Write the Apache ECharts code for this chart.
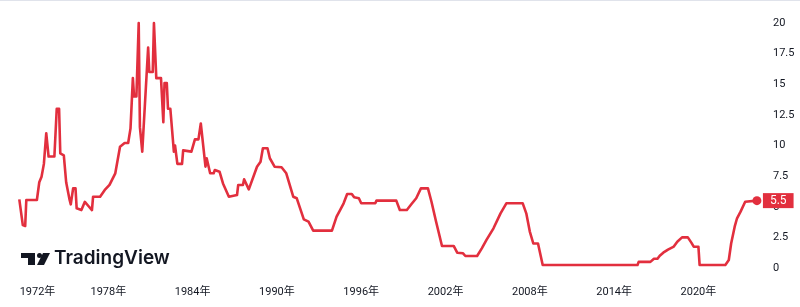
<!DOCTYPE html>
<html>
<head>
<meta charset="utf-8">
<script src="https://cdn.jsdelivr.net/npm/echarts@6/dist/echarts.min.js"></script>
<style>
html,body{margin:0;padding:0;background:#fff;}
#chart{width:800px;height:307px;}
</style>
</head>
<body>
<div id="chart"></div>
<script>
// Change points of the rate line (month, percent)
const dates = [
 '1971-09','1971-12',
 '1972-02','1972-03','1972-12',
 '1973-02','1973-04','1973-06','1973-08','1973-10',
 '1974-03','1974-05','1974-07','1974-08','1974-11',
 '1975-01','1975-04','1975-05','1975-07','1975-09','1975-10',
 '1976-02','1976-05','1976-08','1976-11','1976-12',
 '1977-06','1977-10',
 '1978-02','1978-07','1978-11',
 '1979-03','1979-06','1979-08','1979-10','1979-11',
 '1980-01','1980-03','1980-04','1980-06','1980-07','1980-11','1980-12',
 '1981-03','1981-04','1981-06','1981-10','1981-12',
 '1982-01','1982-03','1982-04','1982-06','1982-09','1982-10','1982-12',
 '1983-04','1983-05','1983-12',
 '1984-03','1984-06','1984-08','1984-12',
 '1985-01','1985-04','1985-07','1985-08','1985-12',
 '1986-03','1986-08',
 '1987-03','1987-04','1987-08','1987-09',
 '1988-01','1988-08','1988-11',
 '1989-01','1989-05','1989-07','1989-11',
 '1990-05','1990-09',
 '1991-03','1991-06','1991-12',
 '1992-04','1992-08',
 '1993-12',
 '1994-04','1994-07','1994-10',
 '1995-01','1995-05','1995-07','1995-11',
 '1996-01',
 '1997-01','1997-02',
 '1998-07','1998-10',
 '1999-04','1999-08','1999-12',
 '2000-04','2000-10',
 '2001-01','2001-05','2001-10',
 '2002-08','2002-11',
 '2003-04','2003-06',
 '2004-04','2004-08','2004-12',
 '2005-06','2005-12',
 '2006-05',
 '2007-07','2007-10',
 '2008-01','2008-04','2008-08','2008-12',
 '2015-09','2015-10',
 '2016-08','2016-11',
 '2017-02','2017-04','2017-07','2017-11',
 '2018-04','2018-07','2018-11',
 '2019-04','2019-07','2019-09',
 '2020-01','2020-02',
 '2021-12',
 '2022-03','2022-05','2022-08','2022-10',
 '2023-01','2023-05','2023-06',
 '2024-03'
];
const rates = [
 5.6,3.5,
 3.43,5.55,5.55,
 7.0,7.45,8.5,11.0,9.1,
 9.1,13.0,13.0,9.36,9.2,
 7.0,5.55,5.2,6.5,6.5,4.87,
 4.73,5.4,5.06,4.73,5.82,
 5.82,6.37,
 6.78,7.73,9.9,
 10.2,10.2,11.4,15.5,14.0,
 14.0,20.0,11.5,9.5,9.5,18.0,16.0,
 16.0,20.0,15.5,15.5,11.9,
 15.1,15.1,13.0,13.0,9.5,10.0,8.5,
 8.5,9.6,9.5,
 10.5,10.5,11.8,8.27,
 8.96,7.73,7.73,8.0,7.86,
 6.9,5.82,
 5.96,6.78,6.78,7.24,
 6.42,8.27,8.68,
 9.77,9.77,8.96,8.27,
 8.22,7.73,
 5.82,5.69,3.97,
 3.78,3.05,
 3.05,
 4.19,4.73,5.28,
 6.04,6.04,5.77,5.69,
 5.28,
 5.28,5.5,
 5.5,4.73,
 4.73,5.22,5.69,
 6.5,6.5,
 5.41,3.78,1.8,
 1.8,1.25,
 1.2,0.98,
 0.98,1.6,2.29,
 3.24,4.46,
 5.28,
 5.28,4.46,
 2.97,2.0,2.0,0.25,
 0.25,0.5,
 0.5,0.75,
 0.75,1.0,1.25,1.5,
 1.75,2.15,2.5,
 2.5,2.07,1.74,
 1.74,0.25,
 0.25,
 0.65,2.0,3.37,4.06,
 4.6,5.41,5.5,
 5.5
];
const xTickYears = [1972,1978,1984,1990,1996,2002,2008,2014,2020];
const yTickValues = [0,2.5,5,7.5,10,12.5,15,17.5,20];
const xRange = ['1970-04-17','2024-07-11'];
const yRange = [-1, 21.5];
const lastLabel = '5.5';

function ts(s){
  const p = s.split('-').map(Number);
  return Date.UTC(p[0], (p[1]||1)-1, p[2]||1);
}
const seriesData = dates.map((d,i)=>[ts(d), rates[i]]);
const last = seriesData[seriesData.length-1];
const RED = '#e22f3e';
const FONT = 'Roboto, "Noto Sans CJK SC", sans-serif';

const chart = echarts.init(document.getElementById('chart'), null, {renderer:'canvas'});
chart.setOption({
  animation:false,
  backgroundColor:'#ffffff',
  grid:{left:0, right:38, top:4.625, bottom:26.75, containLabel:false},
  xAxis:{
    type:'value',
    min:ts(xRange[0]), max:ts(xRange[1]),
    axisLine:{show:false}, axisTick:{show:false}, splitLine:{show:false},
    axisLabel:{
      customValues: xTickYears.map(y=>Date.UTC(y,0,1)),
      margin:7,
      color:'#131722', fontSize:11, fontFamily:FONT,
      formatter:function(v){
        const y = new Date(v).getUTCFullYear();
        if (y === xTickYears[0]) return '{first|' + y + '年}';
        return y + '年';
      },
      rich:{first:{padding:[0,0,0,27], color:'#131722', fontSize:11, fontFamily:FONT}}
    }
  },
  yAxis:{
    type:'value', position:'right',
    min:yRange[0], max:yRange[1],
    axisLine:{show:false}, axisTick:{show:false}, splitLine:{show:false},
    axisLabel:{
      customValues: yTickValues,
      margin:11, align:'left',
      color:'#131722', fontSize:11, fontFamily:FONT,
      formatter:function(v){ return String(v); }
    }
  },
  series:[{
    type:'line',
    data:seriesData,
    showSymbol:false,
    lineStyle:{color:RED, width:2.6, join:'round'},
    itemStyle:{color:RED},
    endLabel:{
      show:true,
      formatter:lastLabel,
      distance:6,
      color:'#ffffff',
      fontSize:12,
      fontFamily:FONT,
      backgroundColor:RED,
      padding:[2,7,1,7]
    },
    markPoint:{
      symbol:'circle', symbolSize:9,
      itemStyle:{color:RED},
      label:{show:false},
      data:[{coord:last}]
    }
  }],
  graphic:[
    {type:'line', shape:{x1:0,y1:0.5,x2:800,y2:0.5}, style:{stroke:'#e0e3eb', lineWidth:1}},
    {type:'group', left:21, top:253, children:[
      {type:'rect', shape:{x:0,y:0,width:14,height:5}, style:{fill:'#131722'}},
      {type:'rect', shape:{x:7,y:0,width:7,height:12}, style:{fill:'#131722'}},
      {type:'circle', shape:{cx:18.5,cy:2.5,r:2.5}, style:{fill:'#131722'}},
      {type:'polygon', shape:{points:[[22,0],[29,0],[23,12],[16,12]]}, style:{fill:'#131722'}}
    ]},
    {type:'text', left:54, top:249, style:{text:'TradingView', fill:'#131722', font:'600 19px Inter, Roboto, sans-serif'}}
  ]
});
</script>
</body>
</html>
